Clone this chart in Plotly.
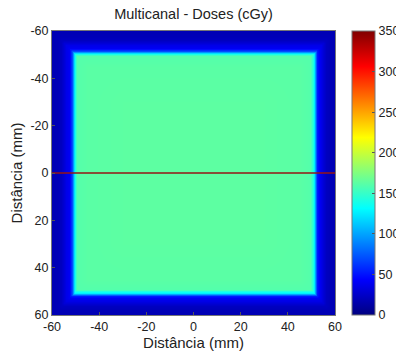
import numpy as np
import plotly.graph_objects as go

# Dose profile along x (central row) (mm, cGy)
x_pos = [-60, -58, -56, -55, -54, -53, -52.2, -51.6, -51.2, -50.8, -50.4, -50, -49.5, -45, -30, 0, 30, 45, 49.5, 50, 50.5, 51, 51.5, 52, 52.5, 53.2, 54, 55, 56, 58, 60]
x_dose = [18, 19, 22, 30, 36, 40, 48, 70, 95, 120, 140, 152, 160, 162, 163, 163, 163, 162, 160, 155, 142, 125, 100, 75, 52, 42, 36, 30, 22, 19, 18]

# Dose profile along y (central column) (mm, cGy)
y_pos = [-60, -58, -56, -55, -54, -53, -52.2, -51.6, -51.2, -50.8, -50.4, -50, -49.5, -45, -30, 0, 30, 45, 49, 49.5, 50, 50.5, 51, 51.5, 52, 53, 54, 55, 56, 58, 60]
y_dose = [18, 19, 22, 30, 36, 40, 48, 70, 95, 120, 140, 152, 160, 162, 163, 163, 163, 162, 160, 155, 142, 125, 100, 75, 52, 40, 35, 30, 22, 19, 18]

dose = np.minimum.outer(np.array(y_dose), np.array(x_dose))

ticks_mm = [-60, -40, -20, 0, 20, 40, 60]
tick_labels = ["-60", "-40", "-20", "0", "20", "40", "60"]
cbar_ticks = [0, 50, 100, 150, 200, 250, 300, 350]

line_x = [-60, 60]
line_y = [0, 0]

jet = [[0.0, "rgb(0,0,128)"], [0.125, "rgb(0,0,255)"], [0.375, "rgb(0,255,255)"],
       [0.625, "rgb(255,255,0)"], [0.875, "rgb(255,0,0)"], [1.0, "rgb(128,0,0)"]]

font = "Liberation Sans, Arial, sans-serif"

fig = go.Figure()
fig.add_trace(go.Heatmap(
    x=x_pos, y=y_pos, z=dose, zmin=0, zmax=350, colorscale=jet, zsmooth="best",
    colorbar=dict(
        x=1.06, xanchor="left", xref="paper", y=0.5, yanchor="middle", len=1, lenmode="fraction",
        thickness=23, thicknessmode="pixels", tickvals=cbar_ticks, ticks="inside", ticklen=3,
        tickcolor="#555", outlinewidth=1, outlinecolor="#777",
        tickfont=dict(family=font, size=12.5, color="#222"), xpad=0, ypad=0,
    ),
))
fig.add_trace(go.Scatter(x=line_x, y=line_y, mode="lines",
                         line=dict(color="rgba(150,20,20,0.75)", width=2),
                         showlegend=False, hoverinfo="skip"))

fig.update_layout(
    width=396, height=356,
    margin=dict(l=52, r=61, t=31, b=41, autoexpand=False),
    paper_bgcolor="white", plot_bgcolor="white",
    title=dict(text="Multicanal - Doses (cGy)", x=0.5, xref="paper", xanchor="center",
               y=1 - 14 / 356, yref="container", yanchor="middle",
               font=dict(family=font, size=14.5, color="#222")),
    font=dict(family=font, color="#222"),
    showlegend=False,
)
fig.update_xaxes(range=[-60, 60], tickvals=ticks_mm, ticktext=tick_labels, ticks="inside", ticklen=3, tickcolor="#555",
                 showline=True, mirror=True, linecolor="#777", linewidth=1, showgrid=False, zeroline=False,
                 tickfont=dict(size=12.5), title=dict(text="Distância (mm)", font=dict(size=15), standoff=2))
fig.update_yaxes(range=[60, -60], tickvals=ticks_mm, ticktext=tick_labels, ticks="inside", ticklen=3, tickcolor="#555",
                 showline=True, mirror=True, linecolor="#777", linewidth=1, showgrid=False, zeroline=False,
                 tickfont=dict(size=12.5), title=dict(text="Distância (mm)", font=dict(size=15), standoff=4))

fig.write_html("out.html")
